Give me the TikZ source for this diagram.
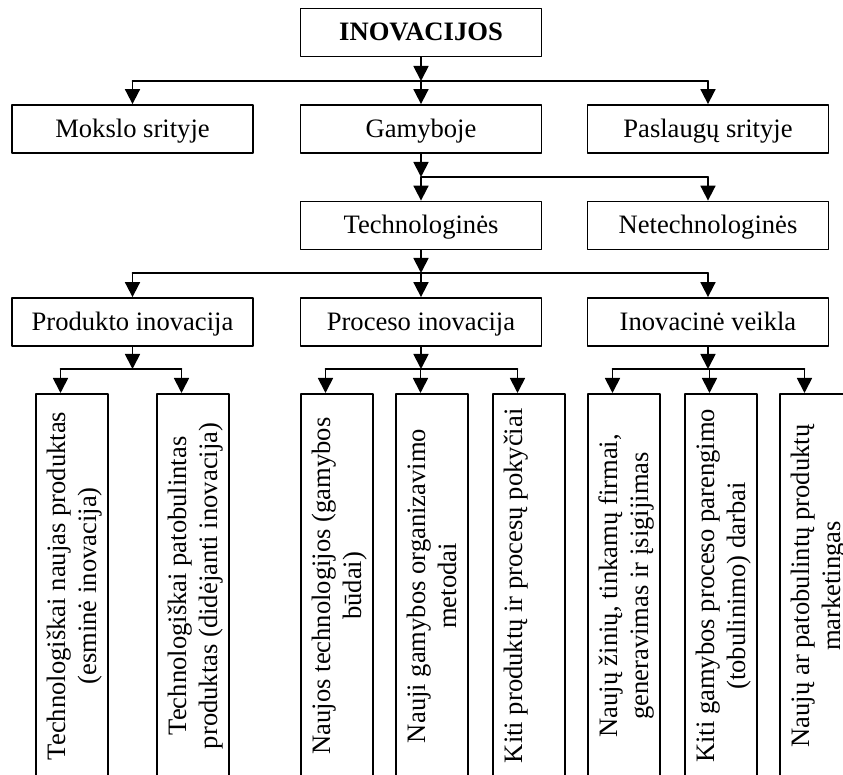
\documentclass[tikz,border=0pt]{standalone}
\usepackage{fontspec}
\setmainfont{Liberation Serif}
\usetikzlibrary{arrows.meta}

\newcommand{\dydis}{\fontsize{13.3}{15.5}\selectfont}
\newcommand{\stulpas}[1]{\parbox[c][36pt][t]{192pt}{\vspace*{5.5pt}\centering #1}}

\tikzset{
  blok/.style={draw, line width=0.9pt, minimum width=120.5pt, minimum height=24pt, inner sep=0pt, text height=11pt, text depth=2.5pt, font=\dydis},
  aukstas/.style={draw, line width=0.9pt, rotate=90, anchor=east, inner sep=0pt, font=\dydis},
  rodykle/.style={->, line width=0.9pt},
  linija/.style={line width=0.9pt}
}

\begin{document}
\begin{tikzpicture}[line cap=round,line join=round,>={Triangle[length=7.5pt,width=7.5pt]},x=0.5pt,y=-0.5pt]
      \useasboundingbox (0,0) rectangle (843,775);
      \node[blok, font=\dydis\bfseries] (inov) at (421,32.5) {INOVACIJOS};
      \node[blok] (mokslo) at (132.5,129) {Mokslo srityje};
      \node[blok] (gamyb) at (421,129) {Gamyboje};
      \node[blok] (pasl) at (708,129) {Paslaugų srityje};
      \node[blok] (tech) at (421,225.5) {Technologinės};
      \node[blok] (netech) at (708,225.5) {Netechnologinės};
      \node[blok] (prod) at (132.5,322) {Produkto inovacija};
      \node[blok] (proc) at (421,322) {Proceso inovacija};
      \node[blok] (inovv) at (708,322) {Inovacinė veikla};
      \node[aukstas] (b1) at (72,393) {\stulpas{Technologiškai naujas produktas\\(esminė inovacija)}};
      \node[aukstas] (b2) at (193,393) {\stulpas{Technologiškai patobulintas\\produktas (didėjanti inovacija)}};
      \node[aukstas] (b3) at (337,393) {\stulpas{Naujos technologijos (gamybos\\būdai)}};
      \node[aukstas] (b4) at (432,393) {\stulpas{Nauji gamybos organizavimo\\metodai}};
      \node[aukstas] (b5) at (529,393) {\stulpas{Kiti produktų ir procesų pokyčiai}};
      \node[aukstas] (b6) at (624,393) {\stulpas{Naujų žinių, tinkamų firmai,\\generavimas ir įsigijimas}};
      \node[aukstas] (b7) at (721,393) {\stulpas{Kiti gamybos proceso parengimo\\(tobulinimo) darbai}};
      \node[aukstas] (b8) at (816,393) {\stulpas{Naujų ar patobulintų produktų\\marketingas}};
      \foreach \i in {1,...,8}
      \coordinate (t\i) at ([xshift=-5.75pt]b\i.east);
      \coordinate (s1) at (421,81);
      \coordinate (s2) at (421,177);
      \coordinate (s3) at (421,273);
      \coordinate (p1) at (132.5,369);
      \coordinate (p2) at (421,369);
      \coordinate (p3) at (708,369);
      \draw[rodykle] (inov) -- (s1);
      \draw[linija] (s1 -| mokslo) -- (s1 -| pasl);
      \foreach \n in {mokslo,gamyb,pasl}
      \draw[rodykle] (s1 -| \n) -- (\n);
      \draw[rodykle] (gamyb) -- (s2);
      \draw[linija] (s2) -- (s2 -| netech);
      \foreach \n in {tech,netech}
      \draw[rodykle] (s2 -| \n) -- (\n);
      \draw[rodykle] (tech) -- (s3);
      \draw[linija] (s3 -| prod) -- (s3 -| inovv);
      \foreach \n in {prod,proc,inovv}
      \draw[rodykle] (s3 -| \n) -- (\n);
      \draw[rodykle] (prod) -- (p1);
      \draw[rodykle] (proc) -- (p2);
      \draw[rodykle] (inovv) -- (p3);
      \draw[linija] (t1 |- p1) -- (t2 |- p1);
      \draw[linija] (t3 |- p2) -- (t5 |- p2);
      \draw[linija] (t6 |- p3) -- (t8 |- p3);
      \foreach \i in {1,2}
      \draw[rodykle] (t\i |- p1) -- (t\i);
      \foreach \i in {3,4,5}
      \draw[rodykle] (t\i |- p2) -- (t\i);
      \foreach \i in {6,7,8}
      \draw[rodykle] (t\i |- p3) -- (t\i);
\end{tikzpicture}
\end{document}
